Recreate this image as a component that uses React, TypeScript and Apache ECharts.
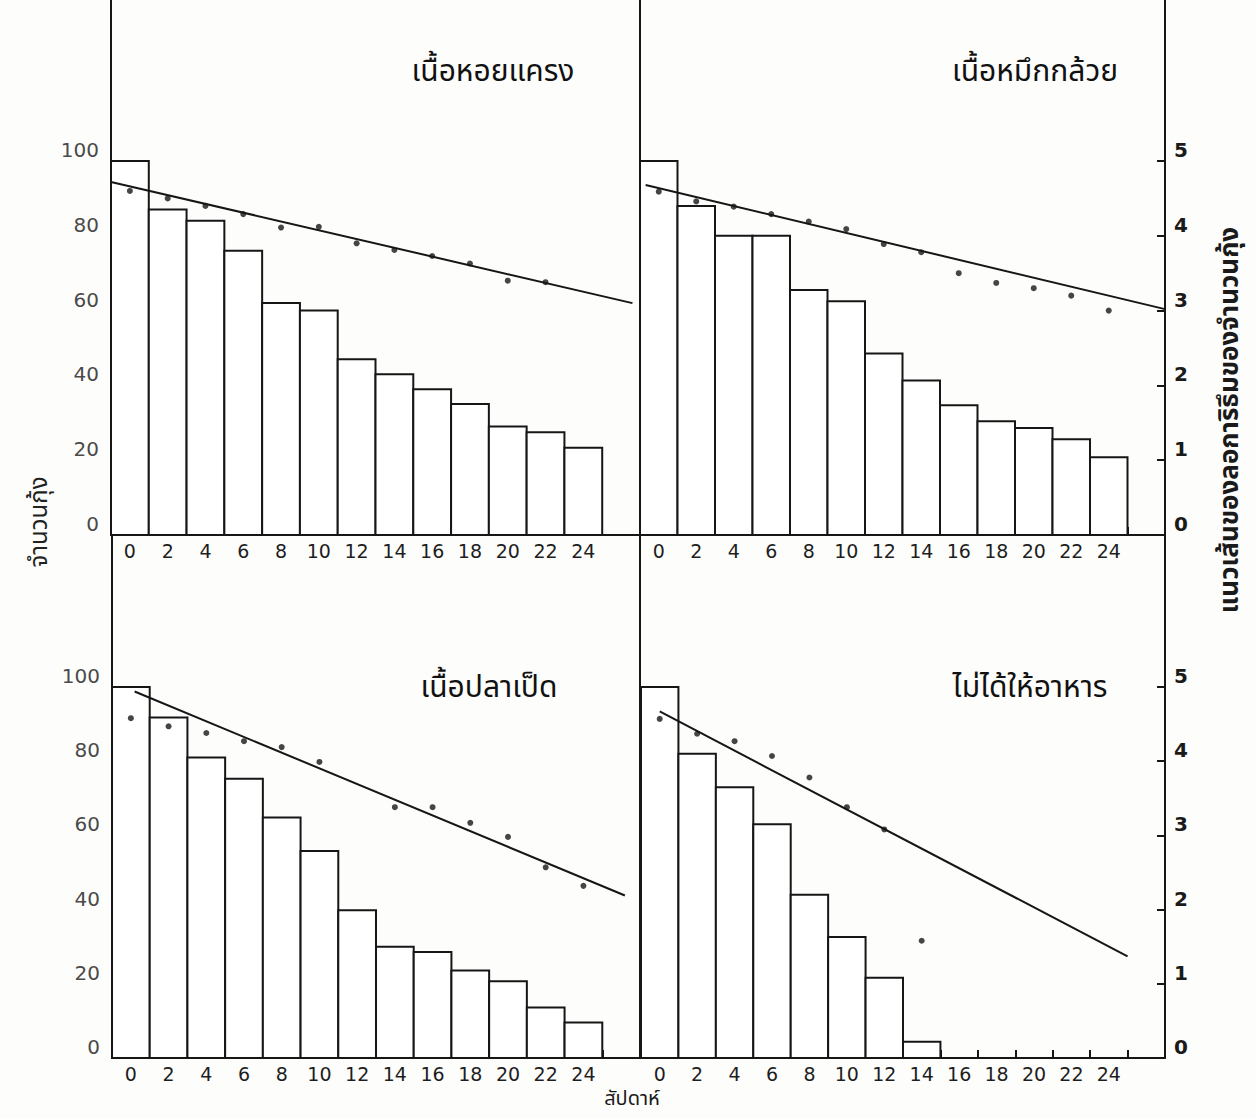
import React, { useEffect, useRef } from "react";
import * as echarts from "echarts";

// ---------- data ----------
const WEEKS = [0, 2, 4, 6, 8, 10, 12, 14, 16, 18, 20, 22, 24];
const BOUNDARY_TICKS = [1, 3, 5, 7, 9, 11, 13, 15, 17, 19, 21, 23, 25];

const TITLES = ["เนื้อหอยแครง", "เนื้อหมึกกล้วย", "เนื้อปลาเป็ด", "ไม่ได้ให้อาหาร"];
const Y_NAME_LEFT = "จำนวนกุ้ง";
const Y_NAME_RIGHT = "แนวเส้นของลอการิธึมของจำนวนกุ้ง";
const X_NAME = "สัปดาห์";

// shrimp counts (bars)
const TL_BARS = [100, 87, 84, 76, 62, 60, 47, 43, 39, 35, 29, 27.5, 23.3];
const TR_BARS = [100, 88, 80, 80, 65.5, 62.5, 48.5, 41.3, 34.7, 30.4, 28.6, 25.6, 20.8];
const BL_BARS = [100, 91.8, 81, 75.3, 64.8, 55.8, 39.8, 30, 28.6, 23.6, 20.7, 13.6, 9.6];
const BR_BARS = [100, 82, 73, 63, 44, 32.6, 21.6, 4.4, null, null, null, null, null];

// log of shrimp counts (dots)
const TL_LOGS = [4.6, 4.5, 4.4, 4.29, 4.11, 4.12, 3.9, 3.81, 3.73, 3.63, 3.4, 3.38, null];
const TR_LOGS = [4.59, 4.46, 4.39, 4.29, 4.19, 4.09, 3.89, 3.78, 3.5, 3.37, 3.3, 3.2, 3.0];
const BL_LOGS = [4.58, 4.47, 4.38, 4.27, 4.19, 3.99, null, 3.38, 3.38, 3.17, 2.98, 2.57, 2.32];
const BR_LOGS = [4.57, 4.37, 4.27, 4.07, 3.78, 3.38, 3.08, 1.58, null, null, null, null, null];

// fitted lines (week, log)
const TL_LINE = [[-1, 4.72], [26.6, 3.1]];
const TR_LINE = [[-0.7, 4.68], [27, 3.02]];
const BL_LINE = [[0.2, 4.94], [26.2, 2.19]];
const BR_LINE = [[0, 4.67], [25, 1.37]];

// ---------- layout ----------
const W = 1256;
const H = 1118;
const INK = "#161616";
const THAI = "'Noto Sans Thai', 'Noto Sans', 'DejaVu Sans', sans-serif";
const NUM = "'DejaVu Sans', 'Liberation Sans', sans-serif";

const PANELS = [
  { left: 111, top: 161, width: 529, height: 374, xMax: 27, bars: TL_BARS, logs: TL_LOGS, line: TL_LINE, side: "left", title: TITLES[0], tx: 493, ty: 72 },
  { left: 640, top: 161, width: 525, height: 374, xMax: 27, bars: TR_BARS, logs: TR_LOGS, line: TR_LINE, side: "right", title: TITLES[1], tx: 1035, ty: 72 },
  { left: 112, top: 687, width: 528, height: 371, xMax: 27, bars: BL_BARS, logs: BL_LOGS, line: BL_LINE, side: "left", title: TITLES[2], tx: 489, ty: 688 },
  { left: 641, top: 687, width: 524, height: 371, xMax: 27, bars: BR_BARS, logs: BR_LOGS, line: BR_LINE, side: "right", title: TITLES[3], tx: 1030, ty: 688 },
];

function buildOption() {
  const grid: any[] = [];
  const xAxis: any[] = [];
  const yAxis: any[] = [];
  const series: any[] = [];
  const graphic: any[] = [];

  PANELS.forEach((p, i) => {
    grid.push({ left: p.left, top: p.top, width: p.width, height: p.height, containLabel: false });
    xAxis.push({
      type: "value",
      gridIndex: i,
      min: -1,
      max: p.xMax,
      axisLine: { show: true, lineStyle: { color: INK, width: 2 } },
      axisTick: { show: true, inside: true, length: 8, customValues: BOUNDARY_TICKS, lineStyle: { color: INK, width: 2 } },
      axisLabel: { show: true, customValues: WEEKS, margin: 6, color: "#1e1e1e", fontSize: 19, fontFamily: NUM },
      splitLine: { show: false },
    });
    const leftShowLabels = p.side === "left";
    yAxis.push({
      type: "value",
      gridIndex: i,
      position: "left",
      min: 0,
      max: 100,
      interval: 20,
      axisLine: { show: true, lineStyle: { color: INK, width: 2 } },
      axisTick: { show: leftShowLabels, inside: true, length: 8, lineStyle: { color: INK, width: 2 } },
      axisLabel: { show: leftShowLabels, margin: 12, color: "#4a4a4a", fontSize: 20, fontFamily: NUM, verticalAlign: "bottom", lineHeight: 22 },
      splitLine: { show: false },
    });
    yAxis.push({
      type: "value",
      gridIndex: i,
      position: "right",
      min: 0,
      max: 5,
      interval: 1,
      show: p.side === "right",
      axisLine: { show: true, lineStyle: { color: INK, width: 2 } },
      axisTick: { show: true, inside: true, length: 8, lineStyle: { color: INK, width: 2 } },
      axisLabel: { show: true, margin: 9, color: "#1a1a1a", fontSize: 20, fontWeight: "bold", fontFamily: NUM, verticalAlign: "bottom", lineHeight: 22 },
      splitLine: { show: false },
    });

    series.push({
      type: "custom",
      xAxisIndex: i,
      yAxisIndex: i * 2,
      data: WEEKS.map((w, k) => [w, p.bars[k]]).filter((d) => d[1] != null),
      renderItem: (params: any, api: any) => {
        const x = api.value(0);
        const v = api.value(1);
        const a = api.coord([x - 1, v]);
        const b = api.coord([x + 1, 0]);
        return {
          type: "rect",
          shape: { x: a[0], y: a[1], width: b[0] - a[0], height: b[1] - a[1] },
          style: { fill: "#ffffff", stroke: INK, lineWidth: 2 },
        };
      },
      z: 2,
    });
    series.push({
      type: "line",
      xAxisIndex: i,
      yAxisIndex: i * 2 + 1,
      data: p.line,
      symbol: "none",
      lineStyle: { color: INK, width: 2 },
      z: 3,
    });
    series.push({
      type: "scatter",
      xAxisIndex: i,
      yAxisIndex: i * 2 + 1,
      data: WEEKS.map((w, k) => [w, p.logs[k]]).filter((d) => d[1] != null),
      symbol: "circle",
      symbolSize: 6,
      itemStyle: { color: INK },
      z: 4,
    });

    graphic.push({
      type: "text",
      x: p.tx,
      y: p.ty,
      style: { text: p.title, font: `30px ${THAI}`, fill: "#111", align: "center", verticalAlign: "middle" },
    });
  });

  // axis line extensions (frame)
  const lineStyle = { stroke: INK, lineWidth: 2 };
  graphic.push({ type: "line", shape: { x1: 111, y1: 0, x2: 111, y2: 161 }, style: lineStyle });
  graphic.push({ type: "line", shape: { x1: 640, y1: 0, x2: 640, y2: 1058 }, style: lineStyle });
  graphic.push({ type: "line", shape: { x1: 1165, y1: 0, x2: 1165, y2: 1058 }, style: lineStyle });
  graphic.push({ type: "line", shape: { x1: 112, y1: 535, x2: 112, y2: 687 }, style: lineStyle });

  graphic.push({
    type: "text",
    x: 40,
    y: 522,
    rotation: Math.PI / 2,
    style: { text: Y_NAME_LEFT, font: `24px ${THAI}`, fill: "#222", align: "center", verticalAlign: "middle" },
  });
  graphic.push({
    type: "text",
    x: 1230,
    y: 420,
    rotation: Math.PI / 2,
    style: { text: Y_NAME_RIGHT, font: `bold 26px ${THAI}`, fill: "#1a1a1a", align: "center", verticalAlign: "middle" },
  });
  graphic.push({
    type: "text",
    x: 632,
    y: 1099,
    style: { text: X_NAME, font: `20px ${THAI}`, fill: "#1a1a1a", align: "center", verticalAlign: "middle" },
  });

  return {
    animation: false,
    backgroundColor: "#fdfdfc",
    grid,
    xAxis,
    yAxis,
    series,
    graphic,
  };
}

export default function App() {
  const ref = useRef<HTMLDivElement>(null);
  useEffect(() => {
    if (!ref.current) return;
    const chart = echarts.init(ref.current, null, { renderer: "svg", width: W, height: H });
    chart.setOption(buildOption());
    return () => chart.dispose();
  }, []);
  return <div ref={ref} style={{ position: "absolute", left: 0, top: 0, width: W, height: H }} />;
}
